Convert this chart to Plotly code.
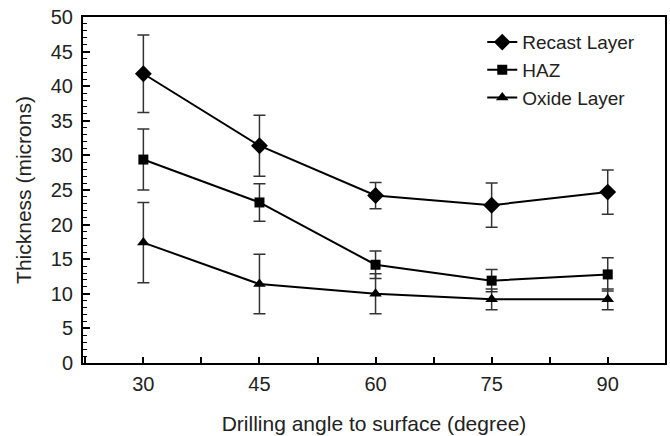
import plotly.graph_objects as go

angles = [30, 45, 60, 75, 90]
recast = [41.8, 31.4, 24.2, 22.8, 24.7]
recast_err = [5.6, 4.4, 1.9, 3.2, 3.2]
haz = [29.4, 23.2, 14.2, 11.9, 12.8]
haz_err = [4.4, 2.7, 2.0, 1.6, 2.4]
oxide = [17.4, 11.4, 10.0, 9.2, 9.2]
oxide_err = [5.8, 4.3, 2.9, 1.5, 1.5]

series = [
    ("Recast Layer", recast, recast_err, "diamond", 13),
    ("HAZ", haz, haz_err, "square", 10),
    ("Oxide Layer", oxide, oxide_err, "triangle-up", 11),
]

fig = go.Figure()
for name, vals, errs, sym, sz in series:
    fig.add_trace(go.Scatter(
        x=angles, y=vals, name=name, mode="lines+markers",
        line=dict(color="black", width=2),
        marker=dict(symbol=sym, size=sz, color="black"),
        error_y=dict(type="data", array=errs, visible=True,
                     color="#333333", thickness=1.5, width=6),
    ))

font_family = "Liberation Sans, Arial, sans-serif"
fig.update_layout(
    width=670, height=436,
    margin=dict(l=83, r=3, t=17, b=73),
    paper_bgcolor="white", plot_bgcolor="white",
    font=dict(family=font_family, size=20, color="#222222"),
    showlegend=True,
    legend=dict(x=0.686, y=0.982, xanchor="left", yanchor="top",
                font=dict(size=19, color="#222222"), bgcolor="rgba(0,0,0,0)",
                itemwidth=30, tracegroupgap=0),
    xaxis=dict(
        range=[22.2, 97.4], tickvals=angles, ticks="inside", ticklen=6,
        tickwidth=1.5, tickcolor="black", ticklabelstandoff=2,
        minor=dict(dtick=7.5, tick0=30, ticks="inside", ticklen=6,
                   tickwidth=1.5, tickcolor="black", showgrid=False),
        showline=True, linecolor="black", linewidth=2, mirror=True,
        showgrid=False, zeroline=False,
        title=dict(text="Drilling angle to surface (degree)", standoff=22,
                   font=dict(size=21)),
        tickfont=dict(size=20),
    ),
    yaxis=dict(
        range=[0, 50], dtick=5, tick0=0, ticks="inside", ticklen=7,
        tickwidth=1.5, tickcolor="black", ticklabelstandoff=4,
        minor=dict(dtick=1, ticks="inside", ticklen=4, tickwidth=1,
                   tickcolor="black", showgrid=False),
        showline=True, linecolor="black", linewidth=2, mirror=True,
        showgrid=False, zeroline=False,
        title=dict(text="Thickness (microns)", standoff=13, font=dict(size=21)),
        tickfont=dict(size=20),
    ),
)

fig.write_html("out.html")
